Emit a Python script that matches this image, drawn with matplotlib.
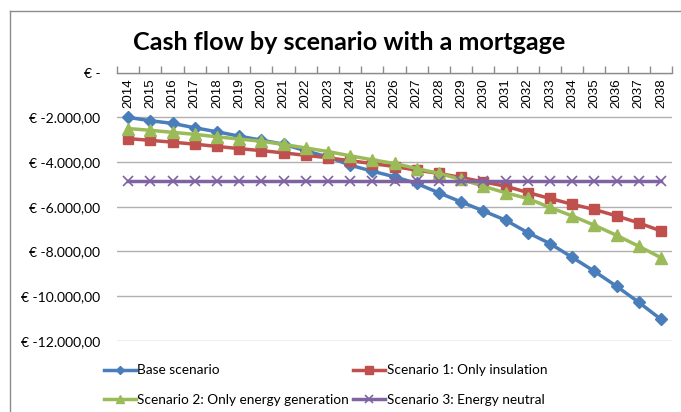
import matplotlib
matplotlib.use("Agg")
import matplotlib.pyplot as plt
from matplotlib.lines import Line2D
from matplotlib.ticker import FixedLocator, FuncFormatter

years = list(range(2014, 2039))
base = [-2000, -2150, -2270, -2465, -2645, -2840, -3020, -3200, -3500, -3770,
        -4140, -4410, -4660, -4960, -5380, -5785, -6190, -6600, -7160, -7650,
        -8265, -8890, -9560, -10280, -11040]
scen1 = [-2950, -3030, -3110, -3200, -3300, -3400, -3490, -3590, -3700, -3810,
         -3940, -4070, -4200, -4365, -4510, -4690, -4890, -5080, -5365, -5630,
         -5890, -6125, -6410, -6725, -7085]
scen2 = [-2500, -2580, -2670, -2760, -2870, -2970, -3070, -3210, -3370, -3530,
         -3720, -3900, -4065, -4290, -4510, -4780, -5080, -5380, -5630, -6035,
         -6410, -6830, -7280, -7770, -8280]
scen3 = [-4840] * 25
names = ["Base scenario", "Scenario 1: Only insulation",
         "Scenario 2: Only energy generation", "Scenario 3: Energy neutral"]
yticks = [0, -2000, -4000, -6000, -8000, -10000, -12000]

W, H = 681, 412
fig = plt.figure(figsize=(W / 100, H / 100), dpi=100)

# outer chart frame (only left and top edges visible)
fig.add_artist(Line2D([10 / W, 10 / W], [0, 1 - 11 / H], color="#8c8c8c", lw=1.0))
fig.add_artist(Line2D([10 / W, 1], [1 - 11 / H, 1 - 11 / H], color="#8c8c8c", lw=1.0))

left, right = 117 / W, 672 / W
top, bottom = 1 - 72.7 / H, 1 - 340.7 / H
ax = fig.add_axes([left, bottom, right - left, top - bottom])

x = list(range(len(years)))
styles = [
    (base, "#4A7EBB", "D", 6.0, 1.0),
    (scen1, "#C0504D", "s", 7.0, 1.0),
    (scen2, "#9BBB59", "^", 8.0, 1.0),
    (scen3, "#8064A2", "x", 7.5, 1.2),
]
handles = []
for i, (vals, c, m, ms, mew) in enumerate(styles):
    h, = ax.plot(x, vals, color=c, lw=2.5, marker=m, markersize=ms,
                 markeredgewidth=mew, markeredgecolor=c, markerfacecolor=c,
                 zorder=3 + i, clip_on=False, label=names[i])
    handles.append(h)

ax.set_xlim(-0.5, len(years) - 0.5)
ax.set_ylim(-12000, 0)

for s in ["top", "left", "right"]:
    ax.spines[s].set_visible(False)
ax.spines["bottom"].set_position(("data", 0))
ax.spines["bottom"].set_color("#8c8c8c")
ax.spines["bottom"].set_linewidth(1.0)

ax.set_xticks(x)
ax.set_xticklabels([str(y) for y in years], rotation=90,
                   fontfamily="Liberation Sans", fontsize=9.6)
ax.xaxis.set_minor_locator(FixedLocator([i - 0.5 for i in range(len(years) + 1)]))
ax.tick_params(axis="x", which="major", length=0, pad=4, direction="in")
ax.tick_params(axis="x", which="minor", length=5, direction="in",
               color="#8c8c8c", width=1.0)
for t in ax.xaxis.get_minor_ticks():
    t.tick1line.set_clip_on(False)


def fmt(v, pos=None):
    if v == 0:
        return "€ -"
    s = f"{abs(v):,.2f}".replace(",", "X").replace(".", ",").replace("X", ".")
    return "€ -" + s


ax.set_yticks(yticks)
ax.yaxis.set_major_formatter(FuncFormatter(fmt))
ax.tick_params(axis="y", length=0, pad=12, labelsize=10)
for lbl in ax.get_yticklabels():
    lbl.set_fontfamily("Lato")
ax.grid(axis="y", color="#b0b0b0", lw=1.0)
ax.set_axisbelow(True)

fig.text(349 / W, 1 - 42 / H, "Cash flow by scenario with a mortgage",
         ha="center", va="center", fontsize=18.1, fontweight="bold",
         fontfamily="Lato")

# row-major legend order (Excel style): base, scen1 / scen2, scen3
order = [0, 2, 1, 3]
fig.legend(handles=[handles[i] for i in order], labels=[names[i] for i in order],
           loc="upper left", bbox_to_anchor=(104 / W, 1 - 364.5 / H),
           ncol=2, frameon=False, prop={"family": "Lato", "size": 9.8},
           handlelength=2.35, handletextpad=0.1, columnspacing=0.3,
           labelspacing=1.25, borderaxespad=0, borderpad=0, numpoints=1,
           markerscale=0.75)

fig.savefig("out.png", dpi=100)
